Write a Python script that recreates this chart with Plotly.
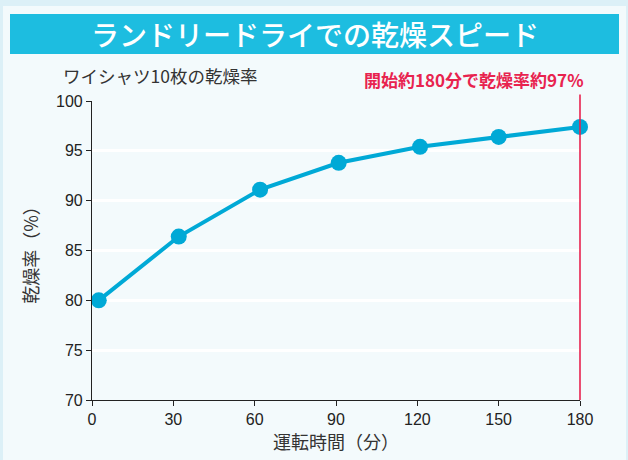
import plotly.graph_objects as go

minutes = [2.5, 32, 62, 91, 121, 150, 180]
dry_rate = [80.0, 86.4, 91.1, 93.8, 95.4, 96.4, 97.4]
x_ticks = [0, 30, 60, 90, 120, 150, 180]
y_ticks = [70, 75, 80, 85, 90, 95, 100]

title_text = "ランドリードライでの乾燥スピード"
subtitle_text = "ワイシャツ10枚の乾燥率"
note_text = "開始約180分で乾燥率約97%"
x_title = "運転時間（分）"
y_title = "乾燥率（%）"

JP = "Noto Sans CJK JP"
NUM = "Liberation Sans, Arial, sans-serif"
LINE = "#00a9d6"
RED = "#e8234f"

# plot area in pixels
L, R, T, B = 92, 580, 101, 400
PW, PH = R - L, B - T


def px(x):
    return (x - L) / PW


def py(y):
    return (B - y) / PH


fig = go.Figure()

fig.add_shape(type="rect", xref="paper", yref="paper", x0=px(3), x1=px(626),
              y0=py(460), y1=py(6), fillcolor="#f3fafc", line=dict(width=0), layer="below")
fig.add_shape(type="rect", xref="paper", yref="paper", x0=px(10), x1=px(619),
              y0=py(54), y1=py(14), fillcolor="#1dbde0", line=dict(width=0), layer="below")

fig.add_trace(go.Scatter(
    x=minutes, y=dry_rate, mode="lines+markers",
    line=dict(color=LINE, width=4),
    marker=dict(color=LINE, size=16),
    cliponaxis=False, showlegend=False, hoverinfo="x+y",
))

annotations = [
    dict(text="", x=minutes[-1], xref="x", y=0, yref="paper",
         ax=0, ay=-(B - 93), axref="pixel", ayref="pixel",
         showarrow=True, arrowhead=0, arrowwidth=1.6, arrowcolor=RED, standoff=0, startstandoff=0),
    dict(text=title_text, xref="paper", yref="paper", x=px(315), y=py(34),
         showarrow=False, font=dict(family=JP, size=28, color="white", weight=500),
         xanchor="center", yanchor="middle"),
    dict(text=subtitle_text, xref="paper", yref="paper", x=px(61), y=py(75),
         showarrow=False, font=dict(family=JP, size=17.5, color="#333333"),
         xanchor="left", yanchor="middle"),
    dict(text="<b>" + note_text + "</b>", xref="paper", yref="paper", x=px(586), y=py(79),
         showarrow=False, font=dict(family=JP, size=17, color=RED),
         xanchor="right", yanchor="middle"),
]

fig.update_layout(
    width=628, height=460,
    margin=dict(l=L, r=628 - R, t=T, b=460 - B),
    paper_bgcolor="#dcf0f7", plot_bgcolor="rgba(0,0,0,0)",
    annotations=annotations,
    xaxis=dict(range=[0, 180], tickvals=x_ticks, ticks="outside", ticklen=5,
               tickcolor="#222", showline=True, linecolor="#222", linewidth=1.2,
               showgrid=False, zeroline=False,
               tickfont=dict(family=NUM, size=16, color="#222"),
               title=dict(text=x_title, font=dict(family=JP, size=18, color="#333"), standoff=4)),
    yaxis=dict(range=[70, 100], tickvals=y_ticks, ticks="outside", ticklen=5,
               tickcolor="#222", showline=True, linecolor="#222", linewidth=1.2,
               showgrid=True, gridcolor="white", gridwidth=2.5, zeroline=False,
               tickfont=dict(family=NUM, size=16, color="#222"),
               title=dict(text=y_title, font=dict(family=JP, size=18, color="#333"), standoff=12)),
)

fig.write_html("out.html", config={"displayModeBar": False},
               post_script="document.body.style.margin='0';")
